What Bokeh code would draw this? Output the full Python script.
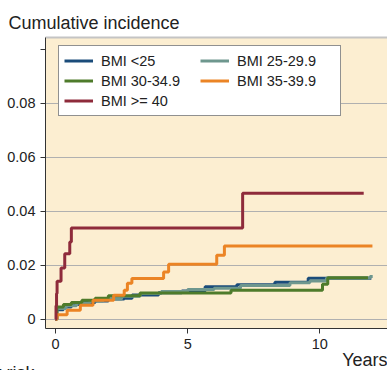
from bokeh.plotting import figure
from bokeh.models import Legend, LegendItem, FixedTicker, LinearAxis, Range1d, Title
from bokeh.embed import file_html
from bokeh.resources import INLINE

# ---- data ----
series_names = ["BMI <25", "BMI 25-29.9", "BMI 30-34.9", "BMI 35-39.9", "BMI >= 40"]

t_lt25 = [0, 0.05, 0.3, 0.6, 1.0, 1.5, 2.0, 2.6, 2.9, 3.9, 4.78, 5.66, 6.86, 8.3, 9.56, 11.95]
v_lt25 = [0, 0.0035, 0.0045, 0.0055, 0.0062, 0.0068, 0.0075, 0.0078, 0.009, 0.0098, 0.0105, 0.012, 0.0128, 0.0137, 0.0152, 0.0152]

t_25 = [0, 0.05, 0.4, 0.8, 1.3, 1.8, 2.5, 3.2, 4.0, 5.0, 6.0, 7.0, 8.87, 9.62, 10.25, 11.9, 12.0]
v_25 = [0, 0.004, 0.005, 0.006, 0.0068, 0.0075, 0.0085, 0.0095, 0.0103, 0.011, 0.0115, 0.0125, 0.0135, 0.0142, 0.0153, 0.0158, 0.0158]

t_30 = [0, 0.05, 0.3, 0.6, 1.0, 1.5, 2.0, 3.2, 6.64, 10.1, 10.3, 11.82]
v_30 = [0, 0.0045, 0.0055, 0.0062, 0.007, 0.0078, 0.0087, 0.0097, 0.0107, 0.013, 0.0154, 0.0154]

t_35 = [0, 0.06, 0.44, 0.94, 1.42, 2.2, 2.6, 2.72, 2.89, 4.09, 4.28, 6.1, 6.39, 11.99]
v_35 = [0, 0.0017, 0.0033, 0.0052, 0.007, 0.0089, 0.0107, 0.0133, 0.0151, 0.0175, 0.0204, 0.0237, 0.0271, 0.0271]

t_40 = [0, 0.02, 0.04, 0.06, 0.21, 0.35, 0.54, 0.6, 7.08, 11.66]
v_40 = [0, 0.005, 0.0095, 0.0141, 0.019, 0.0243, 0.0286, 0.0338, 0.0467, 0.0467]

x_ticks = [0, 5, 10]
y_ticks = [0, 0.02, 0.04, 0.06, 0.08, 0.1]
y_tick_labels = ["0", "0.02", "0.04", "0.06", "0.08", ""]
grid_ticks = [0, 0.02, 0.04, 0.06, 0.08]

colors = ["#1B4C7A", "#6E978E", "#4E7B2B", "#EB8425", "#8E2B3B"]

FONT = "Liberation Sans"
TXT = "#222222"

p = figure(width=387, height=370, output_backend="svg", toolbar_location=None,
           x_range=Range1d(-0.378, 12.56), y_range=Range1d(-0.00344, 0.10444),
           min_border_left=45, min_border_right=0, min_border_top=37, min_border_bottom=42,
           background_fill_color="#FCEED1", border_fill_color="white",
           outline_line_color=None)

series = [(t_lt25, v_lt25), (t_25, v_25), (t_30, v_30), (t_35, v_35), (t_40, v_40)]
renderers = []
for (tx, vy), c in zip(series, colors):
    r = p.step(tx, vy, mode="after", line_color=c, line_width=3)
    renderers.append(r)

# axes
p.xaxis.ticker = FixedTicker(ticks=x_ticks)
p.yaxis.ticker = FixedTicker(ticks=y_ticks)
p.yaxis.major_label_overrides = {k: v for k, v in zip(y_ticks, y_tick_labels)}
for ax in (p.xaxis[0], p.yaxis[0]):
    ax.major_tick_out = 5
    ax.major_tick_in = 0
    ax.minor_tick_line_color = None
    ax.axis_line_color = "#333333"
    ax.major_tick_line_color = "#333333"
    ax.major_label_text_font = FONT
    ax.major_label_text_font_size = "14.5px"
    ax.major_label_text_color = TXT
    ax.major_label_standoff = 5
p.yaxis.major_label_orientation = "horizontal"
p.yaxis.major_label_text_align = "center"

p.xgrid.grid_line_color = None
p.ygrid.ticker = FixedTicker(ticks=grid_ticks)
p.ygrid.grid_line_color = "#B0B0B0"
p.ygrid.grid_line_width = 1

top = LinearAxis(ticker=FixedTicker(ticks=[]), axis_line_color="#C4C4C4", axis_line_width=2,
                 major_tick_line_color=None, minor_tick_line_color=None,
                 major_label_text_font_size="0px")
p.add_layout(top, "above")

# titles
p.add_layout(Title(text="Cumulative incidence", align="left", offset=-37, standoff=10,
                   text_font=FONT, text_font_size="18px", text_font_style="normal",
                   text_color=TXT), "above")
p.add_layout(Title(text="Years", align="right", offset=0, standoff=-3, vertical_align="top",
                   text_font=FONT, text_font_size="18px", text_font_style="normal",
                   text_color=TXT), "below")
p.add_layout(Title(text="Number at risk", align="left", offset=-128, standoff=-25,
                   vertical_align="bottom",
                   text_font=FONT, text_font_size="18px", text_font_style="normal",
                   text_color=TXT), "below")

# legend
order = [0, 2, 4, 1, 3]
items = [LegendItem(label=series_names[i], renderers=[renderers[i]]) for i in order]
legend = Legend(items=items, location=(13, 212), orientation="vertical", nrows=3,
                border_line_color="#222222", border_line_width=1,
                background_fill_color="white", background_fill_alpha=1,
                label_text_font=FONT, label_text_font_size="14.5px", label_text_color=TXT,
                glyph_width=29, glyph_height=19, label_height=19, label_standoff=8,
                label_width=98, spacing=1, padding=5, margin=0)
p.add_layout(legend, "center")

open("out.html", "w").write(file_html(p, INLINE))
